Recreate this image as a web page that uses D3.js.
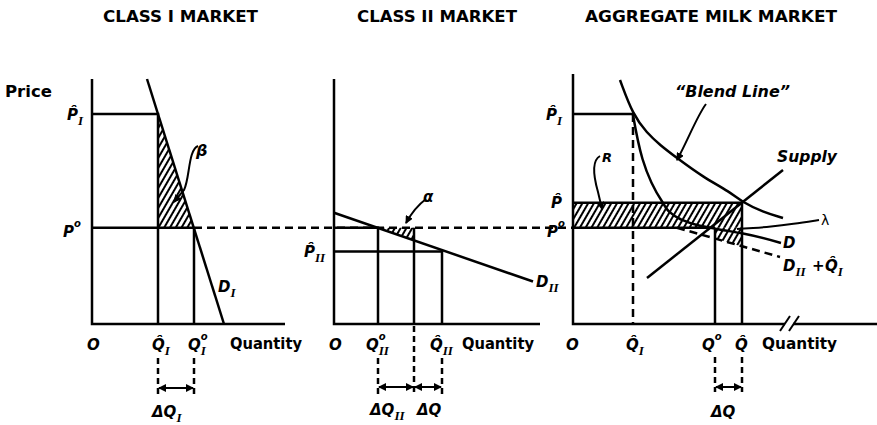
<!DOCTYPE html>
<html>
<head>
<meta charset="utf-8">
<script src="https://cdn.jsdelivr.net/npm/d3@7"></script>
<style>
  body { margin: 0; background: #fff; }
  text { font-family: "DejaVu Sans", sans-serif; fill: #000; }
  .title { font-family: "DejaVu Sans Condensed", "DejaVu Sans", sans-serif; font-weight: bold; font-size: 16px; }
  .word { font-family: "DejaVu Sans Condensed", "DejaVu Sans", sans-serif; font-weight: bold; font-size: 15px; }
  .sym { font-weight: bold; font-style: italic; font-size: 15px; }
  .sub { font-family: "Liberation Serif", serif; font-weight: bold; font-style: italic; font-size: 13px; }
  .sup { font-weight: bold; font-style: italic; font-size: 10px; }
  .ln { fill: none; stroke: #000; stroke-width: 2.5; }
  .thin { fill: none; stroke: #000; stroke-width: 2; }
  .dash { fill: none; stroke: #000; stroke-width: 2.5; stroke-dasharray: 8 5; }
</style>
</head>
<body>
<svg id="chart" width="877" height="425"></svg>
<script>
// ---------------- data (quantity, price) in chart units ----------------
var titles = ["CLASS I MARKET", "CLASS II MARKET", "AGGREGATE MILK MARKET"];

// price levels
var P_HAT_I = 84, P_ZERO = 38.5, P_HAT = 48.5, P_HAT_II = 29;

// class I market
var demandI = [[27.5, 98], [66, 0]];
var qClassI = [33, 51];               // Q^_I, Q_I^0

// class II market
var demandII = [[0, 44.5], [99.5, 17]];
var qClassII = [22, 40, 54];          // Q_II^0, Q_II^0 + dQ_II, Q^_II

// aggregate market
var qAgg = [30, 71, 84.5];            // Q^_I, Q^0, Q^
var blendLine = [[23.5, 97.6], [30, 83.6], [37, 76.4], [43.5, 71.6], [52, 66.4],
                 [65, 58.8], [78.5, 52.8], [84.5, 48.8], [95, 44.8], [105, 42.4]];
var aggDemand = [[30, 83.6], [45, 48.4], [48, 45], [54, 41.8], [62, 39.6],
                 [72, 38], [85, 36.2], [104, 32.4]];
var demandIIplusQI = [[52, 38.5], [103.5, 26.8]];
var lambdaCurve = [[82, 38], [90, 38.4], [98.5, 38.9], [110, 40], [123, 41.6]];
var supplyLine = [[37, 18.4], [105, 61.6]];

// ---------------- layout ----------------
var panelX0 = [92, 334, 573];
var axisEnd = [96.5, 103, 152];
var axisTop = [98, 98, 100];

var svg = d3.select("#chart");

var defs = svg.append("defs");
defs.append("pattern")
    .attr("id", "hatch")
    .attr("patternUnits", "userSpaceOnUse")
    .attr("width", 5).attr("height", 10)
    .attr("patternTransform", "rotate(30)")
    .append("line")
    .attr("x1", 1).attr("y1", 0).attr("x2", 1).attr("y2", 10)
    .attr("stroke", "#000").attr("stroke-width", 2);
defs.append("marker")
    .attr("id", "arrow")
    .attr("markerUnits", "userSpaceOnUse")
    .attr("markerWidth", 8).attr("markerHeight", 8)
    .attr("refX", 7).attr("refY", 4)
    .attr("orient", "auto-start-reverse")
    .append("path")
    .attr("d", "M0,0 L8,4 L0,8 z")
    .attr("fill", "#000");

// shared price scale, one quantity scale per panel
var y = d3.scaleLinear().domain([0, 100]).range([324, 74]);
var x = panelX0.map(function (x0) {
    return d3.scaleLinear().domain([0, 100]).range([x0, x0 + 200]);
});

function draw(sx, pts, cls, curve) {
    var gen = d3.line()
        .x(function (d) { return sx(d[0]); })
        .y(function (d) { return y(d[1]); });
    if (curve) gen.curve(curve);
    return svg.append("path").attr("class", cls).attr("d", gen(pts));
}

function hatch(sx, pts) {
    var gen = d3.line()
        .x(function (d) { return sx(d[0]); })
        .y(function (d) { return y(d[1]); });
    svg.append("path").attr("d", gen(pts) + "Z").attr("fill", "url(#hatch)");
}

// math label: base letter, optional subscript / superscript
function sym(px, py, base, sub, sup, size) {
    var t = svg.append("text").attr("class", "sym").attr("x", px).attr("y", py).text(base);
    if (size) t.style("font-size", size + "px");
    var w = t.node().getComputedTextLength();
    if (sub) svg.append("text").attr("class", "sub").attr("x", px + w).attr("y", py + 5).text(sub);
    if (sup) svg.append("text").attr("class", "sup").attr("x", px + w).attr("y", py - 10).text(sup);
    return w;
}

function word(px, py, s, len) {
    svg.append("text").attr("class", "word").attr("x", px).attr("y", py)
        .attr("textLength", len).attr("lengthAdjust", "spacingAndGlyphs").text(s);
}

function dimension(xs, yArrow, yTops, yBot) {
    xs.forEach(function (xv, i) {
        svg.append("line").attr("class", "dash")
            .style("stroke-dasharray", "6 4")
            .attr("x1", xv).attr("x2", xv).attr("y1", yTops[i]).attr("y2", yBot);
    });
    for (var i = 0; i < xs.length - 1; i++) {
        svg.append("line").attr("class", "thin")
            .attr("x1", xs[i] + 1).attr("x2", xs[i + 1] - 1)
            .attr("y1", yArrow).attr("y2", yArrow)
            .attr("marker-start", "url(#arrow)").attr("marker-end", "url(#arrow)");
    }
}

// titles
var titleX = [103, 357, 585], titleW = [155, 160, 252];
titles.forEach(function (t, i) {
    svg.append("text").attr("class", "title")
        .attr("x", titleX[i]).attr("y", 22)
        .attr("textLength", titleW[i]).attr("lengthAdjust", "spacingAndGlyphs")
        .text(t);
});

// axes
x.forEach(function (sx, i) {
    draw(sx, [[0, axisTop[i]], [0, 0], [axisEnd[i], 0]], "ln");
});

// ---------- Class I ----------
var x1 = x[0];
hatch(x1, [[qClassI[0], P_HAT_I], [qClassI[0], P_ZERO], [qClassI[1], P_ZERO]]);
draw(x1, [[0, P_HAT_I], [qClassI[0], P_HAT_I], [qClassI[0], 0]], "ln");
draw(x1, [[0, P_ZERO], [qClassI[1], P_ZERO]], "ln");
draw(x1, [[qClassI[1], P_ZERO], [qClassI[1], 0]], "ln");
draw(x1, demandI, "ln");

// P0 dashed line across to the aggregate market
svg.append("line").attr("class", "dash")
    .attr("x1", x1(qClassI[1])).attr("x2", x[2](0))
    .attr("y1", y(P_ZERO)).attr("y2", y(P_ZERO));

// ---------- Class II ----------
var x2 = x[1];
var dIIat = function (q) {
    var a = demandII[0], b = demandII[1];
    return a[1] + (b[1] - a[1]) * (q - a[0]) / (b[0] - a[0]);
};
hatch(x2, [[qClassII[0], P_ZERO], [qClassII[1], P_ZERO], [qClassII[1], dIIat(qClassII[1])]]);
draw(x2, [[0, P_ZERO], [qClassII[0], P_ZERO], [qClassII[0], 0]], "ln");
draw(x2, [[qClassII[1], P_ZERO], [qClassII[1], 0]], "ln");
draw(x2, [[0, P_HAT_II], [qClassII[2], P_HAT_II], [qClassII[2], 0]], "ln");
draw(x2, demandII, "ln");

// ---------- Aggregate ----------
var x3 = x[2];
hatch(x3, [[0, P_HAT], [qAgg[2], P_HAT], [qAgg[2], P_ZERO], [0, P_ZERO]]);
hatch(x3, [[qAgg[1], P_ZERO], [qAgg[2], P_ZERO], [qAgg[2], 31], [qAgg[1], 34.2]]);
draw(x3, [[0, P_HAT], [qAgg[2], P_HAT]], "ln");
draw(x3, [[0, P_ZERO], [qAgg[1], P_ZERO]], "ln");
draw(x3, [[0, P_HAT_I], [qAgg[0], P_HAT_I]], "ln");
draw(x3, [[qAgg[0], P_HAT_I], [qAgg[0], 0]], "dash");
draw(x3, [[qAgg[1], P_ZERO], [qAgg[1], 0]], "ln");
draw(x3, [[qAgg[2], P_HAT], [qAgg[2], 0]], "ln");
draw(x3, blendLine, "ln", d3.curveBasis);
draw(x3, aggDemand, "ln", d3.curveMonotoneY);
draw(x3, demandIIplusQI, "dash");
draw(x3, lambdaCurve, "thin", d3.curveBasis);
draw(x3, supplyLine, "ln");

// axis break
svg.append("rect").attr("x", 785).attr("y", 320).attr("width", 8).attr("height", 8).attr("fill", "#fff");
[0, 9].forEach(function (dx) {
    svg.append("line").attr("class", "thin")
        .attr("x1", 780 + dx).attr("y1", 331).attr("x2", 790 + dx).attr("y2", 316);
});

// ---------- leaders ----------
svg.append("path").attr("class", "thin").attr("d", "M198,146 C188,150 190,178 184,190 L174,202").attr("marker-end", "url(#arrow)");
svg.append("path").attr("class", "thin").attr("d", "M426,199 C418,205 412,212 406,223").attr("marker-end", "url(#arrow)");
svg.append("path").attr("class", "thin").attr("d", "M706,104 C697,116 688,140 677,160").attr("marker-end", "url(#arrow)");
svg.append("path").attr("class", "thin").attr("d", "M600,156 C591,161 594,178 598,192 L602,209").attr("marker-end", "url(#arrow)");

// ---------- labels ----------
word(5, 97, "Price", 47);
sym(67, 120, "P\u0302", "I");
sym(63, 237, "P", null, "o");
sym(196, 156, "\u03b2", null, null, 16);
sym(218, 292, "D", "I");
sym(87, 350, "O");
sym(152, 350, "Q\u0302", "I");
sym(188, 350, "Q", "I", "o");
word(230, 349, "Quantity", 72);
sym(152, 417, "\u0394Q", "I");

sym(304, 257, "P\u0302", "II");
sym(423, 202, "\u03b1");
sym(536, 287, "D", "II");
sym(329, 350, "O");
sym(366, 350, "Q", "II", "o");
sym(430, 350, "Q\u0302", "II");
word(462, 349, "Quantity", 72);
sym(370, 415, "\u0394Q", "II");
sym(417, 415, "\u0394Q");

sym(546, 120, "P\u0302", "I");
sym(551, 208, "P\u0302");
sym(547, 237, "P", null, "o");
sym(602, 162, "R", null, null, 13);
svg.append("text").attr("class", "sym").attr("x", 675).attr("y", 97)
    .attr("textLength", 115).attr("lengthAdjust", "spacingAndGlyphs").text("\u201cBlend Line\u201d");
svg.append("text").attr("class", "sym").attr("x", 777).attr("y", 162)
    .attr("textLength", 60).attr("lengthAdjust", "spacingAndGlyphs").text("Supply");
svg.append("text").attr("x", 821).attr("y", 225).style("font-size", "14px").text("\u03bb");
sym(783, 248, "D");
sym(783, 271, "D", "II");
sym(812, 271, "+");
sym(825, 271, "Q\u0302", "I");
sym(566, 350, "O");
sym(626, 350, "Q\u0302", "I");
sym(702, 350, "Q", null, "o");
sym(735, 350, "Q\u0302");
word(762, 349, "Quantity", 75);
sym(711, 417, "\u0394Q");

// ---------- dimension marks ----------
dimension([x1(qClassI[0]), x1(qClassI[1])], 388, [358, 358], 394);
dimension([x2(qClassII[0]), x2(qClassII[1]), x2(qClassII[2])], 387, [358, 326, 358], 395);
dimension([x3(qAgg[1]), x3(qAgg[2])], 387, [357, 357], 392);
</script>
</body>
</html>
